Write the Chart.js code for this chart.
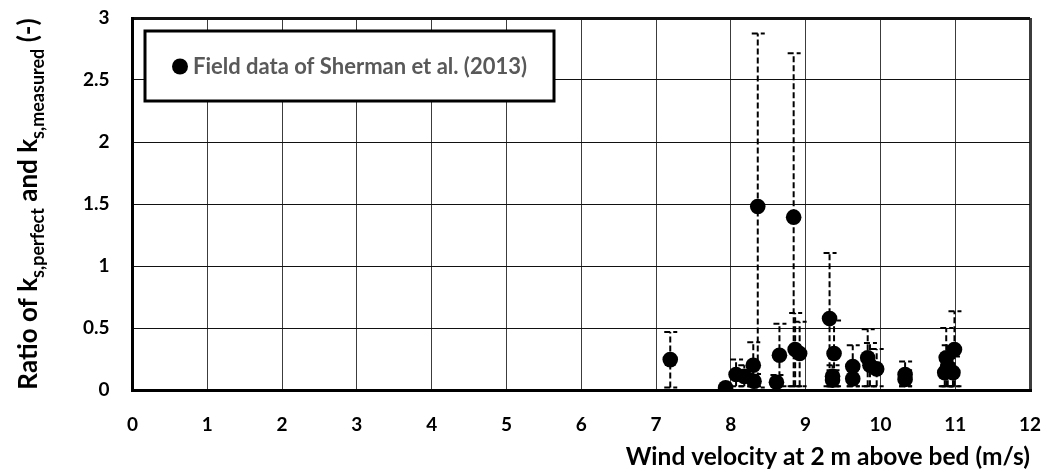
<!DOCTYPE html>
<html>
<head>
<meta charset="utf-8">
<script src="https://cdn.jsdelivr.net/npm/chart.js@4.4.1/dist/chart.umd.min.js"></script>
<style>
  html, body { margin: 0; padding: 0; background: #fff; }
  #wrap { width: 1046px; height: 470px; }
</style>
</head>
<body>
<div id="wrap"><canvas id="chart" width="1046" height="470"></canvas></div>
<script>
// wind speed at 2 m (m/s), ratio ks,perfect / ks,measured, and error bar ends
const windSpeed = [7.19, 7.93, 8.07, 8.18, 8.30, 8.31, 8.36, 8.61, 8.65, 8.84, 8.86, 8.92,
  9.32, 9.36, 9.36, 9.38, 9.63, 9.63, 9.83, 9.86, 9.95, 10.33, 10.33, 10.86, 10.88, 10.90, 10.97, 10.99];
const ratio = [0.245, 0.018, 0.125, 0.11, 0.20, 0.07, 1.48, 0.063, 0.28, 1.394, 0.326, 0.294,
  0.576, 0.11, 0.08, 0.294, 0.19, 0.09, 0.26, 0.20, 0.17, 0.125, 0.085, 0.14, 0.26, 0.19, 0.14, 0.326];
const upperEnd = [0.468, 0.03, 0.245, 0.20, 0.385, 0.13, 2.876, 0.12, 0.535, 2.715, 0.62, 0.55,
  1.105, 0.20, 0.16, 0.56, 0.36, 0.17, 0.49, 0.38, 0.33, 0.23, 0.16, 0.27, 0.50, 0.36, 0.27, 0.635];
const lowerEnd = [0.02, 0.0, 0.03, 0.03, 0.03, 0.03, 0.02, 0.03, 0.03, 0.03, 0.03, 0.03,
  0.03, 0.03, 0.03, 0.03, 0.03, 0.03, 0.03, 0.03, 0.03, 0.03, 0.03, 0.03, 0.03, 0.03, 0.03, 0.03];

const xTicks = [0, 1, 2, 3, 4, 5, 6, 7, 8, 9, 10, 11, 12];
const yTicks = [0, 0.5, 1, 1.5, 2, 2.5, 3];

const seriesLabel = "Field data of Sherman et al. (2013)";
const xTitle = "Wind velocity at 2 m above bed (m/s)";
const yTitleParts = [
  ["Ratio of k", false], ["s,perfect", true], [" and k", false], ["s,measured", true], [" (-)", false]
];

const FONT = "Lato, 'Open Sans', sans-serif";

/* dashed error bars, drawn under the markers */
const errorBars = {
  id: "errorBars",
  beforeDatasetsDraw(chart){
    const {ctx, scales:{x, y}} = chart;
    ctx.save();
    ctx.strokeStyle = "#000";
    ctx.lineWidth = 2;
    ctx.setLineDash([6, 3]);
    windSpeed.forEach((v, i)=>{
      const px = x.getPixelForValue(v);
      const top = y.getPixelForValue(upperEnd[i]);
      const bot = y.getPixelForValue(lowerEnd[i]);
      ctx.beginPath(); ctx.moveTo(px, bot); ctx.lineTo(px, top); ctx.stroke();
      [top, bot].forEach(py=>{
        ctx.beginPath(); ctx.moveTo(px - 6, py); ctx.lineTo(px + 7, py); ctx.stroke();
      });
    });
    ctx.restore();
  }
};

/* legend box and axis titles (y title needs subscripts) */
const decorations = {
  id: "decorations",
  afterDraw(chart){
    const {ctx, chartArea} = chart;
    ctx.save();

    // legend
    ctx.fillStyle = "#fff";
    ctx.fillRect(145, 31, 409, 70);
    ctx.strokeStyle = "#000";
    ctx.lineWidth = 3;
    ctx.strokeRect(145, 31, 409, 70);
    ctx.fillStyle = "#000";
    ctx.beginPath(); ctx.arc(180, 66.5, 8, 0, Math.PI*2); ctx.fill();
    ctx.fillStyle = "#595959";
    ctx.font = `bold 22px ${FONT}`;
    ctx.textBaseline = "middle";
    ctx.textAlign = "left";
    ctx.fillText(seriesLabel, 193, 67);

    // x title
    ctx.fillStyle = "#000";
    ctx.font = `bold 24.5px ${FONT}`;
    ctx.textAlign = "right";
    ctx.fillText(xTitle, chartArea.right, 457);

    // y title, rotated, with subscripts
    const big = `bold 26px ${FONT}`, small = `bold 18px ${FONT}`;
    let total = 0;
    yTitleParts.forEach(([t, sub])=>{ ctx.font = sub ? small : big; total += ctx.measureText(t).width; });
    ctx.translate(37, 204);
    ctx.rotate(-Math.PI/2);
    ctx.textAlign = "left";
    ctx.textBaseline = "alphabetic";
    let pos = -total/2;
    yTitleParts.forEach(([t, sub])=>{
      ctx.font = sub ? small : big;
      ctx.fillText(t, pos, sub ? 7 : 0);
      pos += ctx.measureText(t).width;
    });
    ctx.restore();
  }
};

const edge = (v, lo, hi)=> (v === lo || v === hi) ? 3 : 1;
const tickFont = { family: FONT, size: 19, weight: "bold" };

new Chart(document.getElementById("chart"), {
  type: "scatter",
  data: {
    datasets: [{
      label: seriesLabel,
      data: windSpeed.map((v, i)=>({x: v, y: ratio[i]})),
      backgroundColor: "#000",
      borderColor: "#000",
      borderWidth: 0,
      pointRadius: 7.8,
      pointHoverRadius: 7.8
    }]
  },
  options: {
    responsive: false,
    animation: false,
    layout: { padding: { top: 18, right: 16, left: 0, bottom: 0 } },
    plugins: { legend: { display: false }, tooltip: { enabled: false } },
    scales: {
      x: {
        type: "linear",
        min: xTicks[0], max: xTicks[xTicks.length - 1],
        afterBuildTicks: s=>{ s.ticks = xTicks.map(v=>({value: v})); },
        afterFit: s=>{ s.height = 80; s.paddingLeft = 0; s.paddingRight = 0; },
        grid: {
          color: "#3c3c3c",
          lineWidth: c=> edge(c.tick.value, 0, 12),
          drawTicks: false
        },
        border: { color: "#000", width: 3 },
        ticks: { color: "#000", font: tickFont, padding: 23, callback: v=> String(v) }
      },
      y: {
        type: "linear",
        min: yTicks[0], max: yTicks[yTicks.length - 1],
        afterBuildTicks: s=>{ s.ticks = yTicks.map(v=>({value: v})); },
        afterFit: s=>{ s.width = 132.5; s.paddingTop = 0; s.paddingBottom = 0; },
        grid: {
          color: "#111",
          lineWidth: c=> edge(c.tick.value, 0, 3),
          drawTicks: false
        },
        border: { color: "#000", width: 3 },
        ticks: { color: "#000", font: tickFont, padding: 23, callback: v=> String(v) }
      }
    }
  },
  plugins: [errorBars, decorations]
});
</script>
</body>
</html>
